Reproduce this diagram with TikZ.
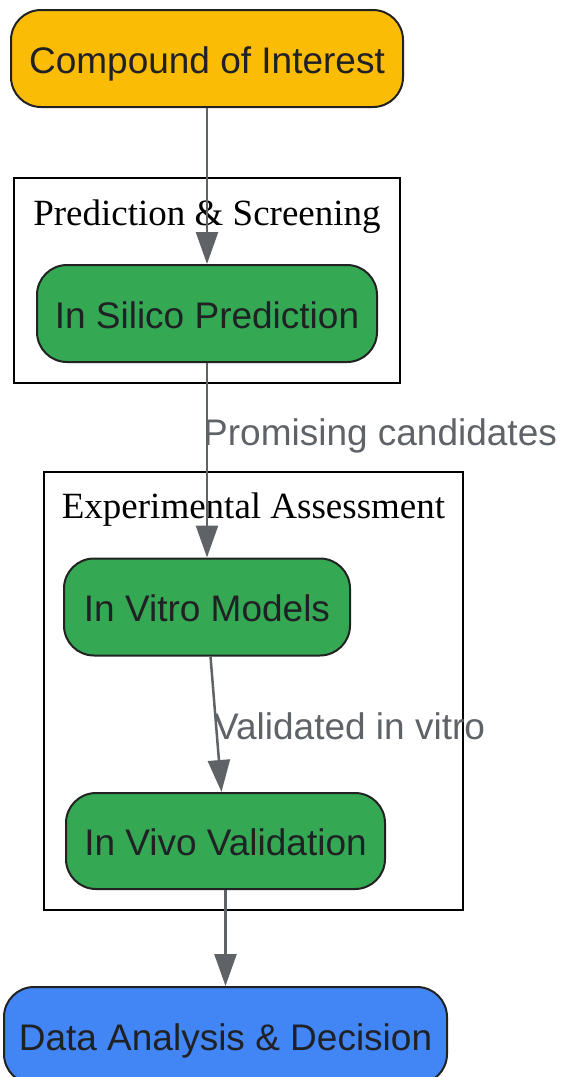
\documentclass[tikz,border=0pt]{standalone}
\usepackage{fontspec}
\setmainfont{Liberation Serif}
\newfontfamily\nodefont{Liberation Sans}
\usetikzlibrary{arrows.meta}
\definecolor{cyellow}{HTML}{FBBC05}
\definecolor{cgreen}{HTML}{34A853}
\definecolor{cblue}{HTML}{4285F4}
\definecolor{cborder}{HTML}{222222}
\definecolor{ctext}{HTML}{202124}
\definecolor{cedge}{HTML}{5F6368}
\tikzset{
  flownode/.style={draw=cborder, line width=2pt, rounded corners=30pt, inner sep=0pt,
    minimum height=97pt, text=ctext, font=\nodefont\fontsize{37}{44}\selectfont,
    text height=29pt, text depth=0pt},
  clusterbox/.style={draw=black, line width=2pt, inner sep=0pt},
  clusterlabel/.style={anchor=base, inner sep=0pt, font=\fontsize{37}{44}\selectfont},
  edgelabel/.style={anchor=base west, inner sep=0pt, text=cedge, font=\nodefont\fontsize{37}{44}\selectfont},
  flowedge/.style={draw=cedge, line width=2.5pt, -{Triangle[length=32pt,width=22pt]}},
}
\begin{document}
\begin{tikzpicture}[x=1pt,y=-1pt]
\useasboundingbox (0,0) rectangle (561,1077);
% clusters
\node[clusterbox, minimum width=386pt, minimum height=205pt] (c1) at (207,280.5) {};
\node[clusterlabel] (c1l) at (207,225) {Prediction \& Screening};
\node[clusterbox, minimum width=419pt, minimum height=438pt] (c2) at (253.5,691) {};
\node[clusterlabel] (c2l) at (253.5,518) {Experimental Assessment};
% nodes
\node[flownode, fill=cyellow, minimum width=392pt] (compound) at (207,58.5) {Compound of Interest};
\node[flownode, fill=cgreen, minimum width=340pt] (silico) at (207,313.5) {In Silico Prediction};
\node[flownode, fill=cgreen, minimum width=286pt] (vitro) at (207,607) {In Vitro Models};
\node[flownode, fill=cgreen, minimum width=319pt, minimum height=96pt] (vivo) at (225.5,841) {In Vivo Validation};
\node[flownode, fill=cblue, minimum width=443pt] (data) at (225.5,1035.5) {Data Analysis \& Decision};
% edges
\draw[flowedge] (compound.south) -- (silico.north);
\draw[flowedge] (silico.south) -- (vitro.north);
\draw[flowedge] ([xshift=3.5pt]vitro.south) -- ([xshift=-4pt]vivo.north);
\draw[flowedge] (vivo.south) -- (data.north);
% edge labels
\node[edgelabel] (l1) at (203,445) {Promising candidates};
\node[edgelabel] (l2) at (214,739) {Validated in vitro};
\end{tikzpicture}
\end{document}
